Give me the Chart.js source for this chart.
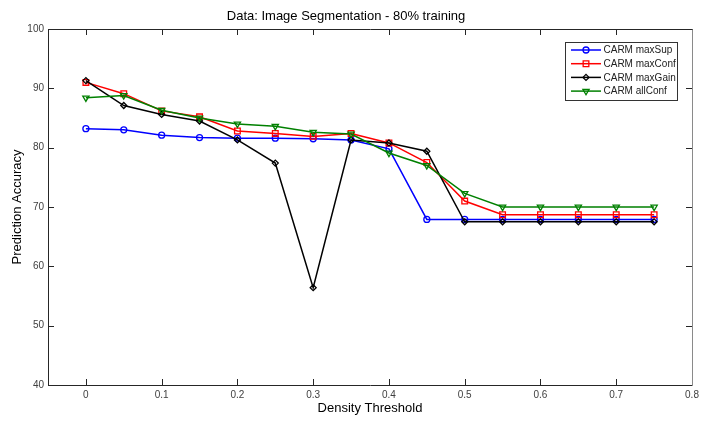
<!DOCTYPE html>
<html>
<head>
<meta charset="utf-8">
<title>Image Segmentation - 80% training</title>
<script src="https://cdn.jsdelivr.net/npm/chart.js@4/dist/chart.umd.min.js"></script>
<style>
  html, body { margin: 0; padding: 0; background: #fff; }
  #wrap { width: 701px; height: 421px; }
</style>
</head>
<body>
<div id="wrap"><canvas id="accChart" width="701" height="421"></canvas></div>
<script>
/* --- Data --- */
var thresholds = [0, 0.05, 0.1, 0.15, 0.2, 0.25, 0.3, 0.35, 0.4, 0.45, 0.5, 0.55, 0.6, 0.65, 0.7, 0.75];
var maxSup  = [83.2, 83.0, 82.1, 81.7, 81.6, 81.6, 81.5, 81.3, 79.8, 67.9, 67.9, 67.9, 67.9, 67.9, 67.9, 67.9];
var maxConf = [91.0, 89.1, 86.2, 85.2, 82.8, 82.4, 81.9, 82.4, 80.8, 77.5, 71.0, 68.7, 68.7, 68.7, 68.7, 68.7];
var maxGain = [91.3, 87.1, 85.6, 84.5, 81.3, 77.4, 56.4, 81.3, 80.8, 79.4, 67.5, 67.5, 67.5, 67.5, 67.5, 67.5];
var allConf = [88.4, 88.8, 86.3, 85.0, 84.0, 83.6, 82.6, 82.3, 79.1, 77.0, 72.3, 70.0, 70.0, 70.0, 70.0, 70.0];

var xTicks = [0, 0.1, 0.2, 0.3, 0.4, 0.5, 0.6, 0.7, 0.8];
var yTicks = [40, 50, 60, 70, 80, 90, 100];

var FONT = '"Liberation Sans", Arial, Helvetica, sans-serif';

function toPoints(ys) {
  return thresholds.map(function (x, i) { return { x: x, y: ys[i] }; });
}

function series(label, ys, color, style, radius, rotation, order) {
  return {
    label: label,
    data: toPoints(ys),
    showLine: true,
    borderColor: color,
    backgroundColor: color,
    borderWidth: 1.5,
    pointStyle: style,
    pointRadius: radius,
    pointRotation: rotation,
    pointBorderColor: color,
    pointBackgroundColor: "rgba(255,255,255,0)",
    pointBorderWidth: 1.3,
    order: order
  };
}

/* --- Box, inward ticks (all four sides) and legend --- */
var framePlugin = {
  id: "frame",
  afterDatasetsDraw: function (chart) {
    var ctx = chart.ctx;
    var a = chart.chartArea;
    var xs = chart.scales.x, ys = chart.scales.y;
    var tl = 6;
    ctx.save();
    ctx.lineWidth = 1;
    ctx.strokeStyle = "#262626";
    ctx.beginPath();
    xs.ticks.forEach(function (t) {
      var px = Math.round(xs.getPixelForValue(t.value)) + 0.5;
      ctx.moveTo(px, a.bottom); ctx.lineTo(px, a.bottom - tl);
      ctx.moveTo(px, a.top); ctx.lineTo(px, a.top + tl);
    });
    ys.ticks.forEach(function (t) {
      var py = Math.round(ys.getPixelForValue(t.value)) + 0.5;
      ctx.moveTo(a.left, py); ctx.lineTo(a.left + tl, py);
      ctx.moveTo(a.right, py); ctx.lineTo(a.right - tl, py);
    });
    ctx.stroke();

    var l = Math.round(a.left) + 0.5, r = Math.round(a.right) + 0.5;
    var t0 = Math.round(a.top) + 0.5, b = Math.round(a.bottom) + 0.5;
    ctx.beginPath();
    ctx.moveTo(r, t0); ctx.lineTo(l, t0); ctx.lineTo(l, b); ctx.lineTo(r, b);
    ctx.stroke();
    ctx.strokeStyle = "#8a8a8a";
    ctx.beginPath();
    ctx.moveTo(r, t0); ctx.lineTo(r, b);
    ctx.stroke();

    // legend box in the upper right corner
    var bx = 565.5, by = 42.5, bw = 112, bh = 58;
    ctx.fillStyle = "#fff";
    ctx.fillRect(bx, by, bw, bh);
    ctx.strokeStyle = "#333";
    ctx.strokeRect(bx, by, bw, bh);
    ctx.font = "10px " + FONT;
    ctx.textBaseline = "middle";
    chart.data.datasets.forEach(function (ds, i) {
      var ry = 50 + i * 13.7;
      ctx.strokeStyle = ds.borderColor;
      ctx.lineWidth = ds.borderWidth;
      ctx.beginPath();
      ctx.moveTo(571, ry); ctx.lineTo(601, ry);
      ctx.stroke();
      ctx.fillStyle = "rgba(255,255,255,0)";
      ctx.lineWidth = ds.pointBorderWidth;
      Chart.helpers.drawPoint(ctx, {
        pointStyle: ds.pointStyle,
        radius: ds.pointRadius,
        rotation: ds.pointRotation,
        borderWidth: ds.pointBorderWidth
      }, 586, ry);
      ctx.fillStyle = "#222";
      ctx.fillText(ds.label, 603.5, ry + 0.5);
    });
    ctx.restore();
  }
};

var chart = new Chart(document.getElementById("accChart"), {
  type: "scatter",
  data: {
    datasets: [
      series("CARM maxSup", maxSup, "#0000ff", "circle", 3, 0, 3),
      series("CARM maxConf", maxConf, "#ff0000", "rect", 4, 0, 2),
      series("CARM maxGain", maxGain, "#000000", "rectRot", 3, 0, 1),
      series("CARM allConf", allConf, "#008000", "triangle", 3.6, 180, 0)
    ]
  },
  options: {
    responsive: false,
    animation: false,
    layout: { padding: { left: 0, right: 9, top: 0, bottom: 0 } },
    plugins: {
      legend: { display: false },
      tooltip: { enabled: false },
      title: {
        display: true,
        text: "Data: Image Segmentation - 80% training",
        color: "#000",
        font: { family: FONT, size: 13, weight: "normal", lineHeight: 1.2 },
        padding: { top: 9, bottom: 4.4 }
      }
    },
    scales: {
      x: {
        type: "linear",
        min: -0.05,
        max: 0.8,
        afterBuildTicks: function (scale) {
          scale.ticks = xTicks.map(function (v) { return { value: v }; });
        },
        afterFit: function (scale) {
          scale.height = 36;
          scale.paddingLeft = 0;
          scale.paddingRight = 0;
        },
        grid: { display: false, drawTicks: false },
        border: { display: false },
        ticks: {
          padding: 4,
          maxRotation: 0,
          autoSkip: false,
          color: "#404040",
          font: { family: FONT, size: 10 },
          callback: function (v) { return String(v); }
        },
        title: {
          display: true,
          text: "Density Threshold",
          color: "#000",
          font: { family: FONT, size: 13, lineHeight: 1.2 },
          padding: { top: 0, bottom: 5 }
        }
      },
      y: {
        type: "linear",
        min: 40,
        max: 100,
        afterBuildTicks: function (scale) {
          scale.ticks = yTicks.map(function (v) { return { value: v }; });
        },
        afterFit: function (scale) { scale.width = 48; },
        grid: { display: false, drawTicks: false },
        border: { display: false },
        ticks: {
          padding: 4,
          autoSkip: false,
          color: "#404040",
          font: { family: FONT, size: 10 }
        },
        title: {
          display: true,
          text: "Prediction Accuracy",
          color: "#000",
          font: { family: FONT, size: 13, lineHeight: 1.2 },
          padding: { top: 10, bottom: 0 }
        }
      }
    }
  },
  plugins: [framePlugin]
});
</script>
</body>
</html>
